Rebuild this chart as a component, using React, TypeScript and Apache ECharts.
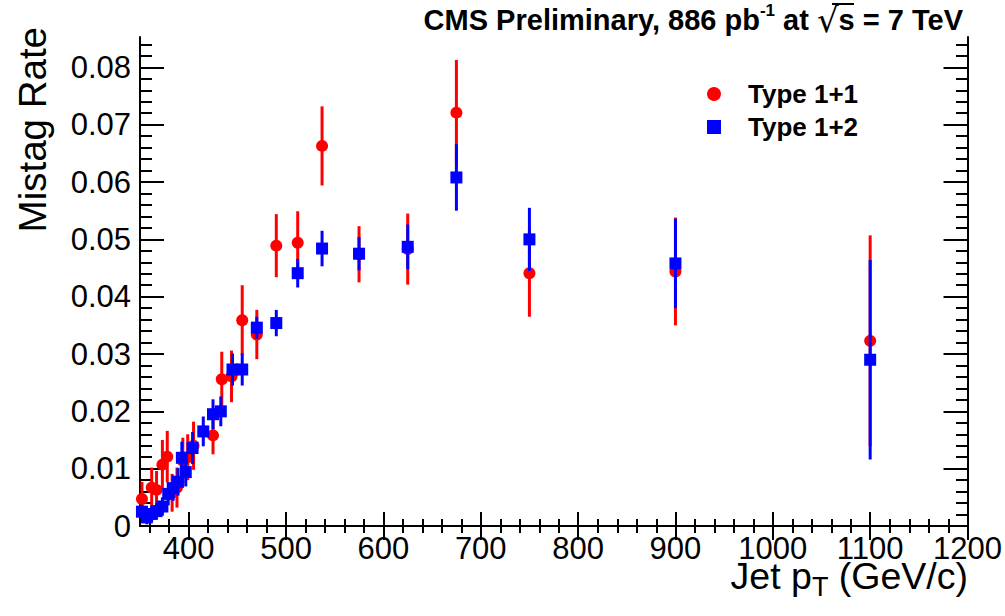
import React, { useEffect, useRef } from "react";
import * as echarts from "echarts";

// Type 1+1 (red circles)
const type11X = [352, 362, 367, 373, 378, 383, 388, 394, 399, 405, 425, 434, 444, 455, 470, 490, 512, 537, 575, 625, 675, 750, 900, 1100];
const type11Y = [0.0047, 0.0067, 0.0063, 0.0107, 0.0121, 0.0058, 0.0067, 0.0114, 0.012, 0.014, 0.0158, 0.0256, 0.0261, 0.0359, 0.0334, 0.0489, 0.0494, 0.0663, 0.0474, 0.0483, 0.0721, 0.0441, 0.0444, 0.0323];
const type11Err = [0.003, 0.0035, 0.0033, 0.0043, 0.0045, 0.0033, 0.0035, 0.004, 0.004, 0.0042, 0.0033, 0.0048, 0.0045, 0.0061, 0.0043, 0.0055, 0.0055, 0.0069, 0.0049, 0.0062, 0.0092, 0.0076, 0.0094, 0.0184];

// Type 1+2 (blue squares)
const type12X = [352, 357, 362, 367, 373, 379, 384, 389, 393, 397, 404, 415, 425, 433, 445, 455, 470, 490, 512, 537, 575, 625, 675, 750, 900, 1100];
const type12Y = [0.0025, 0.0015, 0.0021, 0.0026, 0.0034, 0.0056, 0.0066, 0.0077, 0.0119, 0.0094, 0.0136, 0.0165, 0.0195, 0.02, 0.0273, 0.0273, 0.0346, 0.0354, 0.0441, 0.0484, 0.0475, 0.0487, 0.0608, 0.05, 0.0458, 0.029];
const type12Err = [0.0012, 0.0012, 0.0013, 0.0014, 0.0016, 0.002, 0.0022, 0.0024, 0.0028, 0.0025, 0.0028, 0.0026, 0.0026, 0.0026, 0.0028, 0.0028, 0.0019, 0.0023, 0.0025, 0.0031, 0.0029, 0.0039, 0.0058, 0.0055, 0.0078, 0.0174];

// Axis ticks
const xMajorTicks = [400, 500, 600, 700, 800, 900, 1000, 1100, 1200];
const yMajorTicks = [0, 0.01, 0.02, 0.03, 0.04, 0.05, 0.06, 0.07, 0.08];
const X_MIN = 350;
const X_MAX = 1200;
const Y_MIN = 0;
const Y_MAX = 0.0853;

const xMinorTicks: number[] = [];
for (let v = 360; v < X_MAX; v += 20) if (v % 100 !== 0) xMinorTicks.push(v);
const yMinorTicks: number[] = [];
for (let i = 1; i <= 42; i++) if (i % 5 !== 0) yMinorTicks.push(Math.round(i * 2) / 1000);

const FONT = "Liberation Sans, Arial, Helvetica, sans-serif";
const RED = "#ff0000";
const BLUE = "#0000ff";

function errorSeries(name: string, xs: number[], ys: number[], es: number[], color: string, z: number) {
  return {
    name,
    type: "custom",
    xAxisIndex: 0,
    yAxisIndex: 0,
    z,
    silent: true,
    data: xs.map((x, i) => [x, ys[i], es[i]]),
    renderItem: (_params: any, api: any) => {
      const x = api.value(0);
      const y = api.value(1);
      const e = api.value(2);
      const p1 = api.coord([x, y - e]);
      const p2 = api.coord([x, y + e]);
      return {
        type: "line",
        shape: { x1: p1[0], y1: p1[1], x2: p2[0], y2: p2[1] },
        style: { stroke: color, lineWidth: 3 },
      };
    },
  };
}

export default function App() {
  const ref = useRef<HTMLDivElement>(null);
  useEffect(() => {
    if (!ref.current) return;
    const chart = echarts.init(ref.current, undefined, { renderer: "svg" });
    const axisLine = { show: true, lineStyle: { color: "#000", width: 2 } };
    const gridRect = { left: 140, right: 37, top: 37, bottom: 90, containLabel: false };
    const xBase = { type: "value", min: X_MIN, max: X_MAX, splitLine: { show: false } };
    const yBase = { type: "value", min: Y_MIN, max: Y_MAX, splitLine: { show: false } };
    chart.setOption({
      animation: false,
      backgroundColor: "#ffffff",
      title: {
        text: "CMS Preliminary, 886 pb{sup|-1} at {rt|√}{s|s} = 7 TeV",
        right: 37,
        top: -3,
        textStyle: {
          fontFamily: FONT,
          fontWeight: "bold",
          fontSize: 29,
          color: "#000",
          lineHeight: 36,
          rich: {
            sup: { fontFamily: FONT, fontWeight: "bold", fontSize: 17, color: "#000", verticalAlign: "top", lineHeight: 36, padding: [0, 0, 14, 0] },
            rt: { fontFamily: "DejaVu Sans", fontWeight: "normal", fontSize: 34, color: "#000", lineHeight: 36 },
            s: { fontFamily: FONT, fontWeight: "bold", fontSize: 29, color: "#000", lineHeight: 36 },
          },
        },
      },
      legend: {
        orient: "vertical",
        left: 702,
        top: 76,
        itemWidth: 14,
        itemHeight: 14,
        itemGap: 7,
        data: [
          { name: "Type 1+1", icon: "circle" },
          { name: "Type 1+2", icon: "rect" },
        ],
        textStyle: { fontFamily: FONT, fontWeight: "bold", fontSize: 26, color: "#000", lineHeight: 26, padding: [0, 0, 0, 22] },
      },
      grid: [gridRect, gridRect],
      xAxis: [
        {
          ...xBase,
          gridIndex: 0,
          position: "bottom",
          axisLine,
          axisTick: { show: true, inside: true, length: 14, customValues: xMajorTicks, lineStyle: { color: "#000", width: 2 } },
          axisLabel: {
            show: true,
            customValues: xMajorTicks,
            fontFamily: FONT,
            fontSize: 31,
            color: "#000",
            margin: 7,
            formatter: (v: number) => String(v),
          },
        },
        {
          ...xBase,
          gridIndex: 0,
          position: "top",
          axisLine,
          axisTick: { show: true, inside: true, length: 14, customValues: xMajorTicks, lineStyle: { color: "#000", width: 2 } },
          axisLabel: { show: false },
        },
        {
          ...xBase,
          gridIndex: 1,
          position: "bottom",
          axisLine: { show: false },
          axisTick: { show: true, inside: true, length: 7, customValues: xMinorTicks, lineStyle: { color: "#000", width: 2 } },
          axisLabel: { show: false },
        },
        {
          ...xBase,
          gridIndex: 1,
          position: "top",
          axisLine: { show: false },
          axisTick: { show: true, inside: true, length: 7, customValues: xMinorTicks, lineStyle: { color: "#000", width: 2 } },
          axisLabel: { show: false },
        },
      ],
      yAxis: [
        {
          ...yBase,
          gridIndex: 0,
          position: "left",
          axisLine,
          axisTick: { show: true, inside: true, length: 24, customValues: yMajorTicks, lineStyle: { color: "#000", width: 2 } },
          axisLabel: {
            show: true,
            customValues: yMajorTicks,
            fontFamily: FONT,
            fontSize: 31,
            color: "#000",
            margin: 9,
            formatter: (v: number) => (v === 0 ? "0" : v.toFixed(2)),
          },
        },
        {
          ...yBase,
          gridIndex: 0,
          position: "right",
          axisLine,
          axisTick: { show: true, inside: true, length: 24, customValues: yMajorTicks, lineStyle: { color: "#000", width: 2 } },
          axisLabel: { show: false },
        },
        {
          ...yBase,
          gridIndex: 1,
          position: "left",
          axisLine: { show: false },
          axisTick: { show: true, inside: true, length: 12, customValues: yMinorTicks, lineStyle: { color: "#000", width: 2 } },
          axisLabel: { show: false },
        },
        {
          ...yBase,
          gridIndex: 1,
          position: "right",
          axisLine: { show: false },
          axisTick: { show: true, inside: true, length: 12, customValues: yMinorTicks, lineStyle: { color: "#000", width: 2 } },
          axisLabel: { show: false },
        },
      ],
      graphic: [
        {
          type: "text",
          x: 32,
          y: 27,
          rotation: Math.PI / 2,
          style: {
            text: "Mistag Rate",
            fontFamily: FONT,
            fontSize: 38.5,
            fill: "#000",
            align: "right",
            verticalAlign: "middle",
          },
        },
        {
          type: "text",
          right: 37,
          top: 557,
          style: {
            text: "Jet p{sub|T} (GeV/c)",
            fontFamily: FONT,
            fontSize: 37.5,
            fill: "#000",
            rich: {
              sub: { fontFamily: FONT, fontSize: 27, fill: "#000", verticalAlign: "bottom", padding: [22, 0, 0, 0] },
            },
          },
        },
        {
          type: "line",
          shape: { x1: 832, y1: 4, x2: 854, y2: 4 },
          style: { stroke: "#000", lineWidth: 2 },
        },
      ],
      series: [
        errorSeries("err11", type11X, type11Y, type11Err, RED, 2),
        {
          name: "Type 1+1",
          type: "scatter",
          xAxisIndex: 0,
          yAxisIndex: 0,
          z: 3,
          symbol: "circle",
          symbolSize: 12,
          itemStyle: { color: RED, opacity: 1 },
          data: type11X.map((x, i) => [x, type11Y[i]]),
        },
        errorSeries("err12", type12X, type12Y, type12Err, BLUE, 4),
        {
          name: "Type 1+2",
          type: "scatter",
          xAxisIndex: 0,
          yAxisIndex: 0,
          z: 5,
          symbol: "rect",
          symbolSize: 12,
          itemStyle: { color: BLUE, opacity: 1 },
          data: type12X.map((x, i) => [x, type12Y[i]]),
        },
      ],
    });
    return () => chart.dispose();
  }, []);
  return (
    <div
      ref={ref}
      style={{ position: "fixed", left: 0, top: 0, width: 1005, height: 616, background: "#fff" }}
    />
  );
}
